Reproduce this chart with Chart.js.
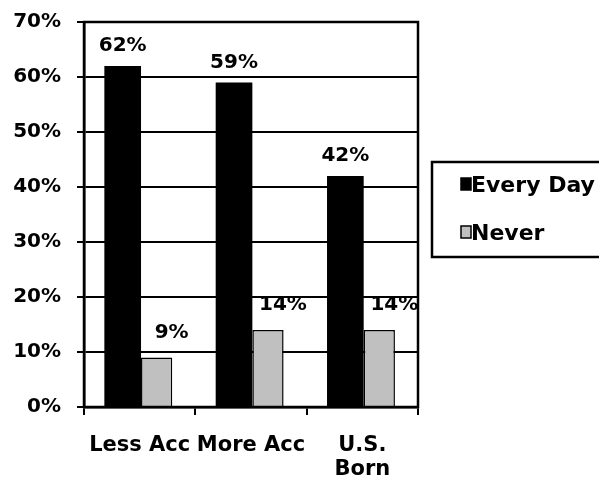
<!DOCTYPE html>
<html><head><meta charset="utf-8">
<script src="https://cdn.jsdelivr.net/npm/chart.js@4.4.0/dist/chart.umd.min.js"></script>
<style>html,body{margin:0;padding:0;background:#fff}#wrap{width:599px;height:483px}</style>
</head><body><div id="wrap"><canvas id="c" width="599" height="483"></canvas></div>
<script>
const categories = [['Less Acc'], ['More Acc'], ['U.S.', 'Born']];
const everyDay = [62, 59, 42];
const never = [9, 14, 14];
const seriesNames = ['Every Day', 'Never'];
const seriesColors = ['#000000', '#c0c0c0'];
const yMin = 0, yMax = 70, yStep = 10;

const FONT = '"DejaVu Sans", sans-serif';

const extras = {
  id: 'extras',
  afterDatasetsDraw(chart) {
    const ctx = chart.ctx;
    ctx.save();
    // plot area box
    const a = chart.chartArea;
    ctx.strokeStyle = '#000';
    ctx.lineWidth = 2.5;
    ctx.strokeRect(a.left, a.top, a.right - a.left, a.bottom - a.top);
    // data labels
    ctx.font = 'bold 20px ' + FONT;
    ctx.fillStyle = '#000';
    ctx.textAlign = 'center';
    ctx.textBaseline = 'alphabetic';
    chart.data.datasets.forEach((ds, i) => {
      const meta = chart.getDatasetMeta(i);
      meta.data.forEach((bar, j) => {
        const dx = i === 1 ? 15 : 0;
        const dy = i === 1 ? 20 : 15;
        ctx.fillText(ds.data[j] + '%', bar.x + dx, bar.y - dy);
      });
    });
    // legend
    ctx.lineWidth = 2.5;
    ctx.strokeRect(432, 162, 180, 95);
    ctx.font = 'bold 22px ' + FONT;
    ctx.textAlign = 'left';
    const rows = [192, 240];
    chart.data.datasets.forEach((ds, i) => {
      const y = rows[i];
      ctx.fillStyle = ds.backgroundColor;
      ctx.fillRect(461, y - 14, 10, 12);
      ctx.lineWidth = 1.5;
      ctx.strokeStyle = '#000';
      ctx.strokeRect(461, y - 14, 10, 12);
      ctx.fillStyle = '#000';
      ctx.fillText(ds.label, 471, y);
    });
    ctx.restore();
  }
};

new Chart(document.getElementById('c'), {
  type: 'bar',
  data: {
    labels: categories,
    datasets: [
      { label: seriesNames[0], data: everyDay, backgroundColor: seriesColors[0], borderColor: '#000', borderWidth: 0, barPercentage: 1.08 },
      { label: seriesNames[1], data: never, backgroundColor: seriesColors[1], borderColor: '#000', borderWidth: 1.5, barPercentage: 0.92 }
    ]
  },
  options: {
    responsive: false,
    animation: false,
    layout: { padding: { top: 22, right: 181, left: 0, bottom: 0 } },
    datasets: { bar: { categoryPercentage: 0.61 } },
    plugins: { legend: { display: false }, tooltip: { enabled: false } },
    scales: {
      y: {
        min: yMin, max: yMax,
        ticks: { stepSize: yStep, callback: v => v + '%', color: '#000', font: { family: FONT, size: 20, weight: 'bold' }, padding: 16 },
        grid: { color: '#000', lineWidth: 2, tickLength: 7 },
        border: { display: true, color: '#000', width: 2.5 },
        afterFit(s) { s.width = 84; s.paddingTop = 0; s.paddingBottom = 0; }
      },
      x: {
        ticks: { color: '#000', font: { family: FONT, size: 21, weight: 'bold', lineHeight: 1.15 }, padding: 18, maxRotation: 0, autoSkip: false },
        grid: { offset: true, drawOnChartArea: false, color: '#000', lineWidth: 2, tickLength: 8 },
        border: { display: true, color: '#000', width: 2.5 },
        afterFit(s) { s.height = 76; s.paddingLeft = 0; s.paddingRight = 0; }
      }
    }
  },
  plugins: [extras]
});
</script>
</body></html>
